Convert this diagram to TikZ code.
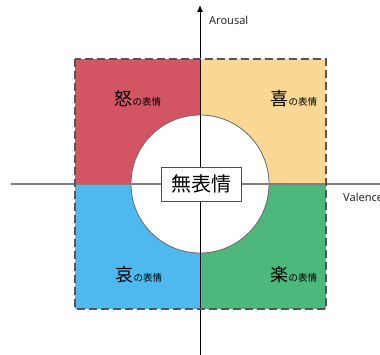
\documentclass[tikz,border=0pt]{standalone}
\usepackage{fontspec}
\usetikzlibrary{arrows.meta}
\setmainfont{Noto Sans}
\newfontfamily\jp{Noto Sans CJK JP}
\definecolor{qred}{HTML}{D35462}
\definecolor{qyellow}{HTML}{F9D894}
\definecolor{qblue}{HTML}{4DB9EE}
\definecolor{qgreen}{HTML}{4DB87B}
\definecolor{bordergray}{HTML}{555555}
\tikzset{
  big/.style={inner sep=0pt, anchor=base west, font=\jp\fontsize{18}{18}\selectfont},
  small/.style={inner sep=0pt, anchor=base west, font=\jp\fontsize{9.5}{10}\selectfont},
  axislabel/.style={inner sep=0pt, anchor=base west, font=\fontsize{11}{13}\selectfont, text=black!85},
}
\begin{document}
\begin{tikzpicture}[x=1pt,y=-1pt]
\useasboundingbox (0,0) rectangle (380,355);
% quadrants
\fill[qred] (75,59) rectangle (200,184);
\fill[qyellow] (200,59) rectangle (326,184);
\fill[qblue] (75,184) rectangle (200,309);
\fill[qgreen] (200,184) rectangle (326,309);
% circle
\node[circle, draw=black!60, line width=0.8pt, fill=white, minimum size=138pt, inner sep=0pt] (c) at (200,184) {};
% axes
\coordinate (hl) at (11,184);
\coordinate (hr) at (381,184);
\coordinate (vb) at (200,356);
\coordinate (vt) at (200,5);
\draw[black!50, line width=1.2pt] (hl) -- (hr);
\draw[black, line width=1pt, -{Latex[length=7pt,width=6pt]}] (vb) -- (vt);
% dashed border
\draw[bordergray, line width=1.4pt, dash pattern=on 8pt off 4pt] (75,59) rectangle (326,309);
% center box
\node[draw=black!70, line width=0.8pt, fill=white, minimum width=80pt, minimum height=34pt, inner sep=0pt, font=\jp\fontsize{20}{20}\selectfont] (m) at (201,184) {無表情};
% labels
\node[big] (a1) at (114,106) {怒};
\node[small] (a2) at (a1.base east) {の表情};
\node[big] (b1) at (270,106) {喜};
\node[small] (b2) at (b1.base east) {の表情};
\node[big] (c1) at (115,281) {哀};
\node[small] (c2) at (c1.base east) {の表情};
\node[big] (d1) at (270,281) {楽};
\node[small] (d2) at (d1.base east) {の表情};
\node[axislabel] (ar) at (209,25) {Arousal};
\node[axislabel] (va) at (343,202) {Valence};
\end{tikzpicture}
\end{document}
